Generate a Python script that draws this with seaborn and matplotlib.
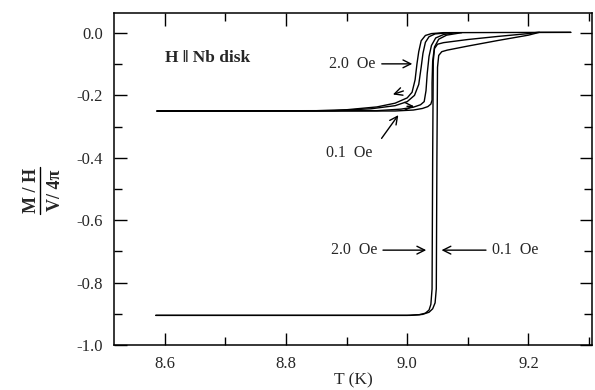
import numpy as np
import pandas as pd
import matplotlib
matplotlib.use("Agg")
import matplotlib.pyplot as plt
from matplotlib.ticker import MultipleLocator
import seaborn as sns

# ZFC curves (lower branch)
zfc_20_T = [8.585, 9.000, 9.020, 9.030, 9.036, 9.039, 9.041, 9.042, 9.043, 9.045, 9.050, 9.060, 9.100, 9.150, 9.200, 9.215, 9.270]
zfc_20_M = [-0.905, -0.905, -0.903, -0.898, -0.888, -0.870, -0.820, -0.400, -0.090, -0.050, -0.036, -0.031, -0.021, -0.011, -0.002, 0.002, 0.002]
zfc_01_T = [8.585, 9.005, 9.025, 9.036, 9.042, 9.046, 9.048, 9.049, 9.050, 9.052, 9.057, 9.066, 9.100, 9.150, 9.200, 9.218]
zfc_01_M = [-0.905, -0.905, -0.902, -0.895, -0.884, -0.865, -0.820, -0.400, -0.110, -0.072, -0.060, -0.055, -0.042, -0.024, -0.007, 0.002]

# field-cooled / warming curves (upper branch)
fc_a_T = [8.587, 8.850, 8.900, 8.950, 8.980, 9.000, 9.008, 9.013, 9.016, 9.019, 9.023, 9.030, 9.040, 9.060, 9.270]
fc_a_M = [-0.250, -0.249, -0.246, -0.237, -0.225, -0.208, -0.190, -0.150, -0.100, -0.060, -0.025, -0.008, -0.002, 0.001, 0.002]
fc_b_T = [8.587, 8.880, 8.940, 8.980, 9.000, 9.012, 9.019, 9.023, 9.026, 9.030, 9.036, 9.046, 9.070]
fc_b_M = [-0.250, -0.249, -0.243, -0.233, -0.220, -0.200, -0.165, -0.110, -0.065, -0.030, -0.012, -0.003, 0.001]
fc_c_T = [8.587, 8.950, 8.990, 9.010, 9.022, 9.028, 9.031, 9.033, 9.036, 9.040, 9.047, 9.060, 9.080]
fc_c_M = [-0.250, -0.249, -0.244, -0.238, -0.230, -0.220, -0.185, -0.130, -0.075, -0.040, -0.016, -0.005, 0.001]
fc_d_T = [8.587, 8.980, 9.010, 9.025, 9.034, 9.039, 9.041, 9.041, 9.042, 9.045, 9.052, 9.065, 9.090]
fc_d_M = [-0.251, -0.250, -0.247, -0.242, -0.236, -0.228, -0.215, -0.160, -0.090, -0.045, -0.020, -0.007, 0.001]

curves = [(zfc_20_T, zfc_20_M), (zfc_01_T, zfc_01_M),
          (fc_a_T, fc_a_M), (fc_b_T, fc_b_M), (fc_c_T, fc_c_M), (fc_d_T, fc_d_M)]

sns.set_theme(style="ticks")
plt.rcParams["font.family"] = ["Liberation Serif", "DejaVu Serif"]
plt.rcParams["axes.unicode_minus"] = False

fig = plt.figure(figsize=(5.95, 3.9), dpi=100)
ax = fig.add_axes([114 / 595, 45 / 390, 478 / 595, 332 / 390])

for T, M in curves:
    df = pd.DataFrame({"T": T, "M": M})
    sns.lineplot(data=df, x="T", y="M", sort=False, estimator=None,
                 color="black", lw=1.0, ax=ax)

ax.set_xlim(8.516, 9.305)
ax.set_ylim(-1.0, 0.064)
ax.xaxis.set_minor_locator(MultipleLocator(0.1))
ax.yaxis.set_minor_locator(MultipleLocator(0.1))
ax.set_xticks([8.6, 8.8, 9.0, 9.2])
ax.set_xticklabels(["8.6", "8.8", "9.0", "9.2"])
ax.set_yticks([0.0, -0.2, -0.4, -0.6, -0.8, -1.0])
ax.set_yticklabels(["0.0", "-0.2", "-0.4", "-0.6", "-0.8", "-1.0"])
ax.tick_params(which="both", direction="in", top=True, right=True,
               labelsize=12, color="black", width=1.0)
ax.tick_params(which="major", length=9, pad=8)
ax.tick_params(which="minor", length=6)
for s in ax.spines.values():
    s.set_color("black")
    s.set_linewidth(1.1)

ax.set_xlabel("T (K)", fontsize=12.5, labelpad=0)
ax.set_ylabel("")

# y label as a stacked fraction
fig.text(31 / 595, 1 - 190 / 390, "M / H", rotation=90, fontsize=13,
         fontweight="bold", ha="center", va="center")
fig.text(56 / 595, 1 - 190 / 390, "V/ 4π", rotation=90, fontsize=13,
         fontweight="bold", ha="center", va="center")
fig.add_artist(plt.Line2D([40 / 595, 40 / 595], [1 - 167 / 390, 1 - 214 / 390],
                          color="black", lw=1.0, transform=fig.transFigure))

ax.text(8.6, -0.08, "H \u2016 Nb disk", fontsize=12.5, fontweight="bold",
        ha="left", va="center")

arrow = dict(arrowstyle="->", color="black", lw=1.0, mutation_scale=14)
ax.annotate("2.0  Oe", xy=(9.013, -0.099), xytext=(8.948, -0.099),
            fontsize=11.5, ha="right", va="center", arrowprops=arrow)
ax.annotate("", xy=(8.972, -0.200), xytext=(8.998, -0.183), arrowprops=arrow)
ax.annotate("", xy=(9.016, -0.235), xytext=(8.995, -0.235), arrowprops=arrow)
ax.annotate("", xy=(8.988, -0.256), xytext=(8.955, -0.345), arrowprops=arrow)
ax.text(8.905, -0.385, "0.1  Oe", fontsize=11.5, ha="center", va="center")

ax.annotate("2.0  Oe", xy=(9.036, -0.696), xytext=(8.95, -0.696),
            fontsize=11.5, ha="right", va="center", arrowprops=arrow)
ax.annotate("0.1  Oe", xy=(9.052, -0.696), xytext=(9.14, -0.696),
            fontsize=11.5, ha="left", va="center", arrowprops=arrow)

fig.savefig("out.png", dpi=100)
